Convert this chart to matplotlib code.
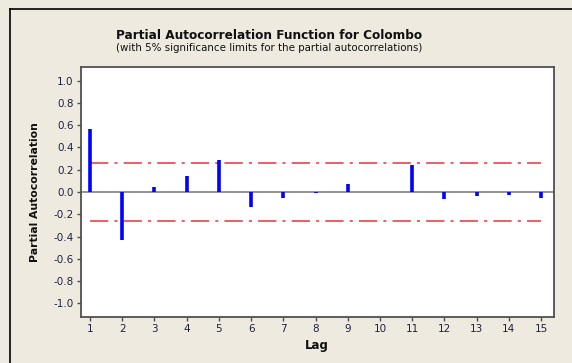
import matplotlib
matplotlib.use("Agg")
import matplotlib.pyplot as plt
from matplotlib.lines import Line2D

# === DATOS ===
lags = [1, 2, 3, 4, 5, 6, 7, 8, 9, 10, 11, 12, 13, 14, 15]
pacf = [0.563, -0.431, 0.045, 0.144, 0.285, -0.138, -0.054, -0.005, 0.072, 0.003,
        0.240, -0.063, -0.039, -0.030, -0.057]
limit = 0.262
yticks = [1.0, 0.8, 0.6, 0.4, 0.2, 0.0, -0.2, -0.4, -0.6, -0.8, -1.0]

bg = "#EEEAE0"
tick_color = "#202040"

fig = plt.figure(figsize=(5.72, 3.63), dpi=100, facecolor=bg)
ax = fig.add_axes([0.141, 0.1267, 0.827, 0.6887])
ax.set_facecolor("white")

# barras
ax.vlines(lags, 0, pacf, colors="#0000FF", linewidth=2.6, zorder=3)
ax.axhline(0, color="#808080", linewidth=1.2, zorder=2)

# limites de significancia
for y in (limit, -limit):
    ax.plot([lags[0], lags[-1]], [y, y], color="#E8333A", linewidth=1.1,
            dashes=(12, 4, 2, 4), zorder=2)

ax.set_xlim(0.71, 15.39)
ax.set_ylim(-1.123, 1.123)
ax.set_xticks(lags)
ax.set_yticks(yticks)
ax.set_yticklabels([f"{v:.1f}" for v in yticks])
ax.tick_params(axis="both", direction="out", length=3, width=1, color="#505050",
               labelsize=7.5, labelcolor=tick_color, pad=2)
for s in ax.spines.values():
    s.set_color("#505050")
    s.set_linewidth(1.3)

# titulos
fig.text(0.471, 0.903, "Partial Autocorrelation Function for Colombo",
         ha="center", va="center", fontsize=8.7, fontweight="bold", color="#101010")
fig.text(0.471, 0.867, "(with 5% significance limits for the partial autocorrelations)",
         ha="center", va="center", fontsize=7.4, color="#101010")
fig.text(0.061, 0.471, "Partial Autocorrelation", rotation=90, ha="center",
         va="center", fontsize=7.8, fontweight="bold", color="#101010")
fig.text(0.5537, 0.048, "Lag", ha="center", va="center", fontsize=8.5,
         fontweight="bold", color="#101010")

# borde del panel
fig.add_artist(Line2D([10 / 572, 1], [1 - 9 / 363, 1 - 9 / 363],
                      transform=fig.transFigure, color="black", linewidth=1.2))
fig.add_artist(Line2D([10 / 572, 10 / 572], [0, 1 - 9 / 363],
                      transform=fig.transFigure, color="black", linewidth=1.2))

fig.savefig("out.png", dpi=100, facecolor=bg)
